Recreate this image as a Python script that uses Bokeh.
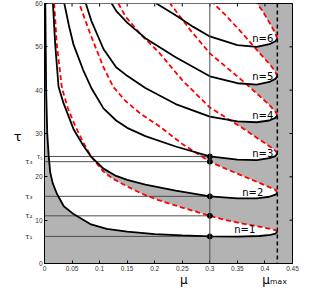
import math
from bokeh.plotting import figure
from bokeh.models import Label, LinearAxis, FixedTicker, Span
from bokeh.embed import file_html
from bokeh.resources import INLINE

# ---------------- data ----------------
mu_max = 0.4225
mu_cut = 0.3
tau_marks = [6.25, 11.0, 15.5, 23.5, 24.7]
tau_mark_labels = ["τ₁", "τ₂", "τ₃", "τ₄", "τ₅"]
n_labels = ["n=1", "n=2", "n=3", "n=4", "n=5", "n=6"]

x_ticks = [0, 0.05, 0.1, 0.15, 0.2, 0.25, 0.3, 0.35, 0.4, 0.45]
x_tick_labels = ["0", "0.05", "0.1", "0.15", "0.2", "0.25", "0.3", "0.35", "0.4", "0.45"]
y_ticks = [0, 10, 20, 30, 40, 50, 60]
y_tick_labels = ["0", "10", "20", "30", "40", "50", "60"]

# solid black branches (from top of chart down to the nose at mu_max)
black1_mu = [0.0015, 0.003, 0.005, 0.0075, 0.0104, 0.015, 0.0225, 0.035, 0.0527, 0.083, 0.113, 0.15, 0.2, 0.25, 0.3, 0.35, 0.39, 0.41, 0.419, 0.4225]
black1_tau = [60, 40, 30, 25, 21, 18.5, 16.1, 13.2, 11.4, 9.1, 8.0, 7.35, 6.8, 6.5, 6.25, 6.2, 6.35, 6.6, 6.9, 7.3]
black2_mu = [0.0153, 0.0195, 0.0255, 0.0345, 0.0527, 0.07, 0.085, 0.107, 0.13, 0.15, 0.183, 0.238, 0.3, 0.35, 0.385, 0.408, 0.419, 0.4225]
black2_tau = [60, 50.4, 40.8, 37.0, 31.0, 27.3, 24.6, 21.9, 20.2, 19.3, 18.2, 16.8, 15.5, 15.05, 15.05, 15.4, 15.9, 16.3]
black3_mu = [0.036, 0.045, 0.0527, 0.07, 0.085, 0.107, 0.13, 0.15, 0.183, 0.238, 0.3, 0.35, 0.385, 0.408, 0.419, 0.4225]
black3_tau = [60, 54.5, 50.5, 44.7, 40.5, 35.8, 33.0, 31.3, 29.4, 27.0, 24.7, 23.95, 23.85, 24.3, 24.8, 25.4]
black4_mu = [0.075, 0.085, 0.107, 0.13, 0.15, 0.183, 0.238, 0.3, 0.35, 0.385, 0.408, 0.419, 0.4225]
black4_tau = [60, 56.0, 49.5, 45.3, 43.3, 40.5, 36.8, 33.9, 32.8, 32.6, 33.0, 33.6, 34.2]
black5_mu = [0.122, 0.13, 0.15, 0.183, 0.238, 0.3, 0.35, 0.385, 0.408, 0.419, 0.4225]
black5_tau = [60, 58.3, 55.6, 52.0, 47.6, 43.2, 41.6, 41.3, 41.9, 42.6, 43.2]
black6_mu = [0.203, 0.238, 0.27, 0.3, 0.35, 0.385, 0.408, 0.419, 0.4225]
black6_tau = [60, 57.3, 54.6, 52.4, 50.4, 50.0, 50.6, 51.3, 51.9]

# red dashed branches (from the nose at mu_max up to the top of chart)
red1_mu = [0.4225, 0.419, 0.41, 0.39, 0.36, 0.33, 0.3, 0.25, 0.207, 0.175, 0.15, 0.125, 0.107, 0.085, 0.07, 0.0527, 0.042, 0.0316, 0.0225, 0.0176]
red1_tau = [7.3, 7.7, 8.0, 8.5, 9.2, 10.0, 11.0, 12.9, 14.6, 16.2, 17.8, 19.5, 21.2, 24.6, 28.0, 32.6, 36.0, 40.5, 50.4, 60]
red2_mu = [0.4225, 0.419, 0.41, 0.39, 0.36, 0.33, 0.3, 0.25, 0.207, 0.175, 0.147, 0.125, 0.107, 0.083, 0.063]
red2_tau = [16.3, 17.0, 17.5, 18.6, 20.2, 21.8, 23.5, 27.6, 31.8, 34.5, 37.5, 40.7, 45.3, 53.0, 60]
red3_mu = [0.4225, 0.419, 0.41, 0.39, 0.36, 0.33, 0.3, 0.25, 0.207, 0.175, 0.147, 0.134]
red3_tau = [25.4, 26.0, 26.9, 28.6, 31.2, 33.6, 36.0, 42.3, 48.8, 52.8, 57.0, 60]
red4_mu = [0.4225, 0.419, 0.41, 0.39, 0.36, 0.33, 0.3, 0.265, 0.228]
red4_tau = [34.2, 35.0, 36.3, 38.7, 42.1, 45.3, 48.5, 53.8, 60]
red5_mu = [0.4225, 0.419, 0.41, 0.39, 0.36, 0.33, 0.307]
red5_tau = [43.2, 44.2, 45.8, 48.6, 53.0, 57.1, 60]
red6_mu = [0.4225, 0.419, 0.41, 0.397, 0.386]
red6_tau = [51.9, 53.1, 55.2, 58.0, 60]

blacks = [(black1_mu, black1_tau), (black2_mu, black2_tau), (black3_mu, black3_tau),
          (black4_mu, black4_tau), (black5_mu, black5_tau), (black6_mu, black6_tau)]
reds = [(red1_mu, red1_tau), (red2_mu, red2_tau), (red3_mu, red3_tau),
        (red4_mu, red4_tau), (red5_mu, red5_tau), (red6_mu, red6_tau)]

# title anchors (layout)
tau_title_at = 29.3
mu_title_at = 0.253
mu_max_label_at = 0.418

# ---------------- figure ----------------
GRAY = "#b3b3b3"
FONT = "DejaVu Sans"
TICKFONT = "Liberation Sans"

p = figure(width=310, height=299, x_range=(0, 0.45), y_range=(0, 60),
           output_backend="svg", toolbar_location=None,
           min_border_left=44, min_border_right=18, min_border_top=3, min_border_bottom=36)
p.background_fill_color = GRAY
p.border_fill_color = "white"
p.outline_line_color = "black"
p.outline_line_width = 1
p.grid.visible = False

# white (stable) regions: between black branch and red branch of each n
xs, ys = [], []
for (bm, bt), (rm, rt) in zip(blacks, reds):
    xs.append(list(bm) + list(rm[1:]))
    ys.append(list(bt) + list(rt[1:]))
p.patches(xs, ys, fill_color="white", line_color=None)

# horizontal tau_i lines and vertical line at mu = 0.3
p.segment(x0=[0] * len(tau_marks), y0=tau_marks, x1=[mu_cut] * len(tau_marks), y1=tau_marks,
          line_color="#4d4d4d", line_width=1)
p.add_layout(Span(location=mu_cut, dimension="height", line_color="#4d4d4d", line_width=1))

for rm, rt in reds:
    p.line(rm, rt, line_color="#ff0000", line_width=1.8, line_dash="5 3")
for bm, bt in blacks:
    p.line(bm, bt, line_color="black", line_width=1.8)

p.add_layout(Span(location=mu_max, dimension="height", line_color="black",
                  line_width=1.5, line_dash="4 3"))

p.scatter([mu_cut] * len(tau_marks), tau_marks, size=5, color="black")

# inner tick marks on the top and right sides of the box
p.ray(x=[0.45] * len(y_ticks), y=y_ticks, length=3, length_units="screen",
      angle=math.pi, line_color="black", line_width=1)
p.ray(x=x_ticks, y=[60] * len(x_ticks), length=3, length_units="screen",
      angle=-math.pi / 2, line_color="black", line_width=1)

# main axes
def style_axis(ax, ticks, labs, size="6.5px"):
    ax.ticker = FixedTicker(ticks=ticks)
    ax.major_label_overrides = dict(zip(ticks, labs))
    ax.major_tick_in = 3
    ax.major_tick_out = 0
    ax.minor_tick_in = 0
    ax.minor_tick_out = 0
    ax.major_label_standoff = 2
    ax.major_label_text_font = TICKFONT
    ax.major_label_text_font_size = size
    ax.major_label_text_color = "#333333"
    ax.axis_line_color = "black"

style_axis(p.xaxis[0], x_ticks, x_tick_labels)
style_axis(p.yaxis[0], y_ticks + [tau_marks[4]], y_tick_labels + [tau_mark_labels[4]])

def label_axis(ticks, labs, size, color, standoff, font=FONT):
    ax = LinearAxis(ticker=FixedTicker(ticks=ticks),
                    major_label_overrides=dict(zip(ticks, labs)),
                    major_tick_in=0, major_tick_out=0, minor_tick_in=0, minor_tick_out=0,
                    axis_line_color=None, major_label_standoff=standoff,
                    major_label_text_font=font, major_label_text_font_size=size,
                    major_label_text_color=color)
    return ax

# tau_1..tau_4 labels (outer left column) and the tau title
p.add_layout(label_axis(tau_marks[:4], tau_mark_labels[:4], "7.5px", "#333333", 0), "left")
tau_title_axis = label_axis([tau_title_at], ["τ"], "13px", "black", 0)
tau_title_axis.major_label_text_align = "left"
p.add_layout(tau_title_axis, "left")

# mu title and mu_max label below the tick labels
p.add_layout(label_axis([mu_title_at, mu_max_label_at], ["μ", "μₘₐₓ"], "12px", "black", -1), "below")

# n labels near the noses
n_dx = [-22, -14, -4, -4, -4, -4]
n_dy = [2, 0, 0, 0, 0, 0]
for (rm, rt), lab, dx, dy in zip(reds, n_labels, n_dx, n_dy):
    p.add_layout(Label(x=mu_max, y=rt[0], x_offset=dx, y_offset=dy, text=lab, text_align="right",
                       text_baseline="middle", text_font=FONT, text_font_size="10px",
                       text_color="black"))

open("out.html", "w").write(file_html(p, INLINE))
